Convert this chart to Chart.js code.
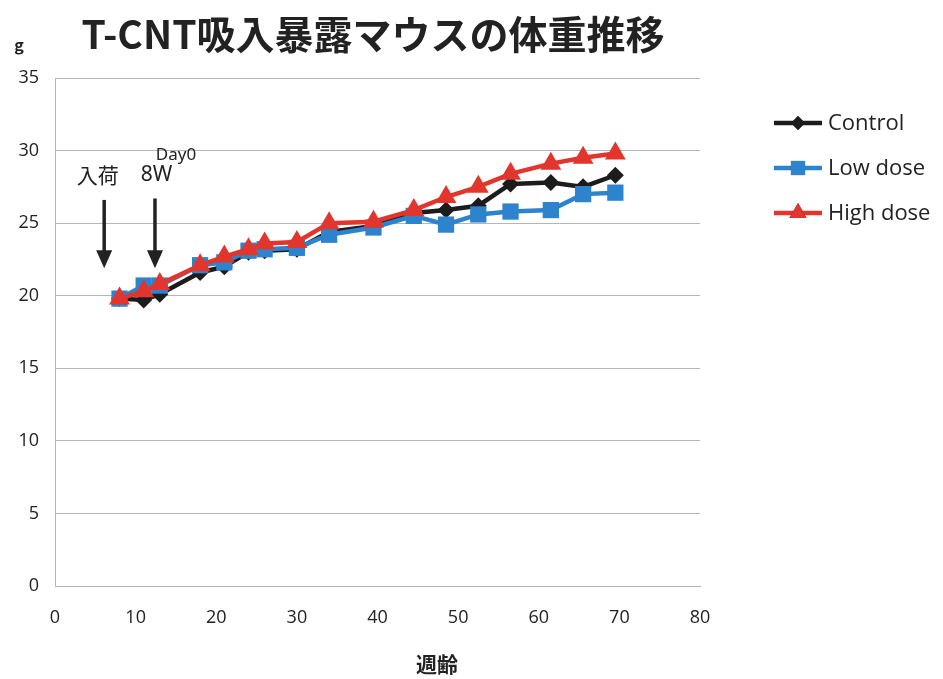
<!DOCTYPE html>
<html>
<head>
<meta charset="utf-8">
<script src="https://cdn.jsdelivr.net/npm/chart.js@4"></script>
<style>
  html, body { margin: 0; padding: 0; background: #fff; }
  #wrap { width: 943px; height: 679px; position: relative; }
</style>
</head>
<body>
<div id="wrap"><canvas id="c" width="943" height="679"></canvas></div>
<script>
// 週齢 (weeks of age) for each weighing
const weeks = [8, 11, 13, 18, 21, 24, 26, 30, 34, 39.5, 44.5, 48.5, 52.5, 56.5, 61.5, 65.5, 69.5];
// mean body weight (g) per group
const controlWeight = [19.8, 19.7, 20.1, 21.6, 22.0, 23.0, 23.1, 23.2, 24.4, 24.8, 25.7, 25.9, 26.2, 27.7, 27.8, 27.5, 28.3];
const lowDoseWeight = [19.8, 20.7, 20.7, 22.1, 22.3, 23.1, 23.2, 23.3, 24.2, 24.7, 25.5, 24.9, 25.6, 25.8, 25.9, 27.0, 27.1];
const highDoseWeight = [19.8, 20.3, 20.8, 22.1, 22.7, 23.2, 23.6, 23.7, 25.0, 25.1, 25.9, 26.8, 27.5, 28.4, 29.1, 29.5, 29.8];
const seriesNames = ['Control', 'Low dose', 'High dose'];
const xTicks = [0, 10, 20, 30, 40, 50, 60, 70, 80];
const yTicks = [0, 5, 10, 15, 20, 25, 30, 35];

const toPoints = ys => weeks.map((w, i) => ({ x: w, y: ys[i] }));

const COLORS = ['#1c1c1c', '#2d83cc', '#e2352d'];
const STYLES = ['rectRot', 'rect', 'triangle'];
const RADII = [8.5, 11.5, 12];
const LEGEND_RADII = [7, 10, 10];

const LABEL_FONT = '"Open Sans", "Noto Sans", sans-serif';
const JP_FONT = '"Noto Sans CJK JP", sans-serif';

// title, unit label, axis title, arrows and legend
const decorations = {
  id: 'decorations',
  afterDraw(chart) {
    const ctx = chart.ctx;
    const xs = chart.scales.x, ys = chart.scales.y;
    ctx.save();
    ctx.fillStyle = '#222';
    ctx.textBaseline = 'middle';

    ctx.font = 'bold 39px ' + JP_FONT;
    ctx.textAlign = 'center';
    ctx.fillText('T-CNT吸入暴露マウスの体重推移', 373, 34);

    ctx.font = 'bold 16px ' + JP_FONT;
    ctx.fillText('g', 19, 45);

    ctx.font = 'bold 21px ' + JP_FONT;
    ctx.fillText('週齢', 437, 664);

    // arrival / start-of-exposure markers
    ctx.font = '21px ' + JP_FONT;
    ctx.fillText('入荷', xs.getPixelForValue(5.3), ys.getPixelForValue(28.3));
    ctx.font = '21px "Noto Sans", sans-serif';
    ctx.fillText('8W', xs.getPixelForValue(12.6), ys.getPixelForValue(28.3));
    ctx.font = '17px "Noto Sans", sans-serif';
    ctx.fillText('Day0', xs.getPixelForValue(15.0), ys.getPixelForValue(29.7));

    const arrow = (wk, from, to) => {
      const x = xs.getPixelForValue(wk);
      const y0 = ys.getPixelForValue(from), y1 = ys.getPixelForValue(to);
      ctx.strokeStyle = '#222';
      ctx.lineWidth = 3.5;
      ctx.beginPath();
      ctx.moveTo(x, y0);
      ctx.lineTo(x, y1 - 16);
      ctx.stroke();
      ctx.beginPath();
      ctx.moveTo(x - 8, y1 - 18);
      ctx.lineTo(x + 8, y1 - 18);
      ctx.lineTo(x, y1);
      ctx.closePath();
      ctx.fill();
    };
    arrow(6.1, 26.6, 21.9);
    arrow(12.4, 26.7, 21.9);

    // legend: short line with marker, then name
    ctx.font = '22px ' + LABEL_FONT;
    ctx.textAlign = 'left';
    seriesNames.forEach((name, i) => {
      const y = 123 + i * 45;
      ctx.strokeStyle = COLORS[i];
      ctx.lineWidth = 4.5;
      ctx.beginPath();
      ctx.moveTo(774, y);
      ctx.lineTo(822, y);
      ctx.stroke();
      Chart.helpers.drawPoint(ctx, {
        pointStyle: STYLES[i], radius: LEGEND_RADII[i], rotation: 0, borderWidth: 0
      }, 798, y);
      ctx.fillStyle = COLORS[i];
      ctx.fill();
      ctx.fillStyle = '#222';
      ctx.fillText(name, 828, y + 1);
    });
    ctx.restore();
  }
};

const datasets = [controlWeight, lowDoseWeight, highDoseWeight].map((d, i) => ({
  label: seriesNames[i],
  data: toPoints(d),
  borderColor: COLORS[i],
  backgroundColor: COLORS[i],
  pointBackgroundColor: COLORS[i],
  pointBorderColor: COLORS[i],
  borderWidth: 4.5,
  pointStyle: STYLES[i],
  pointRadius: RADII[i],
  pointBorderWidth: 0,
  order: 3 - i,
  tension: 0
}));

new Chart(document.getElementById('c'), {
  type: 'line',
  data: { datasets },
  options: {
    responsive: false,
    animation: false,
    events: [],
    layout: { padding: { left: 0, right: 243, top: 78, bottom: 0 } },
    plugins: { legend: { display: false }, tooltip: { enabled: false }, title: { display: false } },
    scales: {
      x: {
        type: 'linear',
        min: 0, max: 80,
        afterFit(scale) { scale.height = 93; },
        afterBuildTicks(scale) { scale.ticks = xTicks.map(v => ({ value: v })); },
        grid: { display: false, drawTicks: false },
        border: { display: true, color: '#b5b5b5', width: 1 },
        ticks: { color: '#222', font: { family: LABEL_FONT, size: 18 }, padding: 21, maxRotation: 0 }
      },
      y: {
        min: 0, max: 35,
        afterFit(scale) { scale.width = 55; },
        afterBuildTicks(scale) { scale.ticks = yTicks.map(v => ({ value: v })); },
        grid: { color: '#b5b5b5', lineWidth: 1, drawTicks: false },
        border: { display: true, color: '#b5b5b5', width: 1 },
        ticks: { color: '#222', font: { family: LABEL_FONT, size: 18 }, padding: 16 }
      }
    }
  },
  plugins: [decorations]
});
</script>
</body>
</html>
